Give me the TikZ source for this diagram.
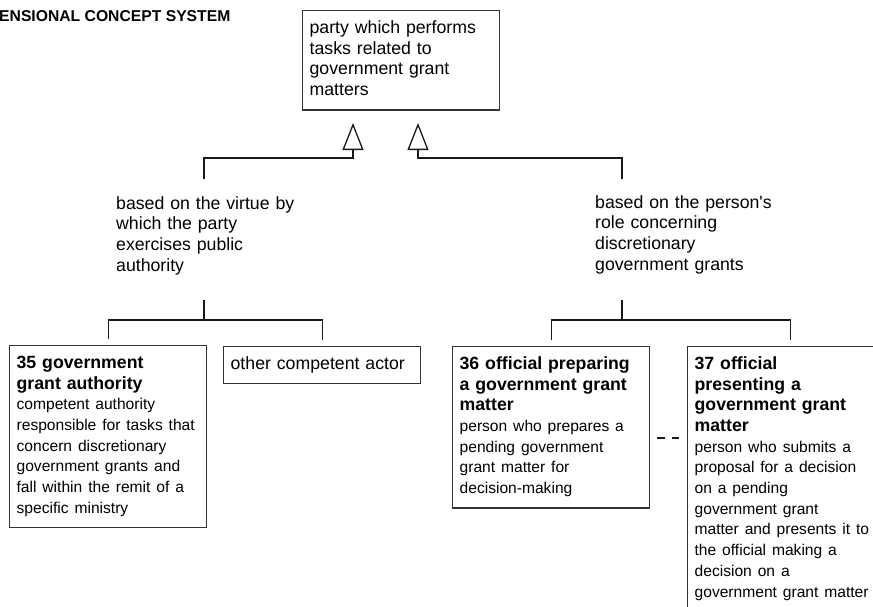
\documentclass[tikz,border=0pt]{standalone}
\usepackage{fontspec}
\setmainfont{Liberation Sans}[Ligatures=TeXOff]
\usepackage{tikz}
\usetikzlibrary{arrows.meta}
\newcommand\termfont{\fontsize{17.7}{20.7}\selectfont}
\newcommand\deffont{\fontsize{15.6}{20.7}\selectfont}
\tikzset{%
  genTip/.tip={Triangle[open,length=27pt,width=21pt]},
  genline/.style={line width=1.3pt, black!90},
  conceptbox/.style={draw=black!80, line width=1.3pt, anchor=north west,
    text width=183pt, align=left, inner xsep=7pt, inner ysep=8.2pt, font=\termfont},
  critlabel/.style={anchor=north west, text width=183pt, align=left,
    inner sep=0pt, font=\termfont}
}

\begin{document}
\begin{tikzpicture}[x=1pt,y=-1pt]
\useasboundingbox (0,0) rectangle (873,606);
\clip (0,0) rectangle (873,606);
\node[anchor=base west, inner sep=0pt, font=\fontsize{15.7}{18}\selectfont\bfseries] (title) at (-1,21.5) {ENSIONAL CONCEPT SYSTEM};
%% superordinate concept
\node[conceptbox] (party) at (302,10) {\strut party which performs\\ tasks related to\\ government grant\\ matters\strut};
\coordinate (apexL) at (353,123);
\coordinate (apexR) at (418,123);
%% criteria of subdivision
\node[critlabel] (critL) at (116,194.5) {\strut based on the virtue by\\ which the party\\ exercises public\\ authority\strut};
\node[critlabel] (critR) at (595,193.5) {\strut based on the person's\\ role concerning\\ discretionary\\ government grants\strut};
\coordinate (topL) at (204,179);
\coordinate (topR) at (622,179);
\coordinate (botL) at (204,300);
\coordinate (botR) at (622,300);
\draw[genline,-genTip] (topL) -- ++(0,-21) -| (apexL);
\draw[genline,-genTip] (topR) -- ++(0,-21) -| (apexR);
%% subordinate concepts
\node[conceptbox] (g35) at (9,345) {\strut\textbf{35 government}\\ \textbf{grant authority}\\ \deffont competent authority\\ \mbox{responsible for tasks that}\\ concern discretionary\\ government grants and\\ fall within the remit of a\\ specific ministry\strut};
\node[conceptbox] (other) at (223,346) {\strut other competent actor\strut};
\node[conceptbox] (g36) at (452,346) {\strut\textbf{36 official preparing}\\ \textbf{a government grant}\\ \textbf{matter}\\ \deffont person who prepares a\\ pending government\\ grant matter for\\ decision-making\strut};
\node[conceptbox, text width=192pt] (g37) at (687,346) {\strut\textbf{37 official}\\ \textbf{presenting a}\\ \textbf{government grant}\\ \textbf{matter}\\ \deffont person who submits a\\ proposal for a decision\\ on a pending\\ government grant\\ \mbox{matter and presents it to}\\ the official making a\\ decision on a\\ \mbox{government grant matter}\strut};
\draw[genline] (botL) -- ++(0,20) coordinate (barL);
\draw[genline,shorten >=6pt] (barL) -| (g35.north);
\draw[genline,shorten >=6pt] (barL) -| (other.north);
\draw[genline] (botR) -- ++(0,20) coordinate (barR);
\draw[genline,shorten >=6pt] (barR) -| (g36.north);
\draw[genline,shorten >=6pt] (barR) -| (g37.north);
%% associative relation
\coordinate (assocY) at (0,438);
\draw[genline, dash pattern=on 8pt off 7pt, shorten <=7pt, shorten >=8pt] (g36.east |- assocY) -- (g37.west |- assocY);
\end{tikzpicture}
\end{document}
